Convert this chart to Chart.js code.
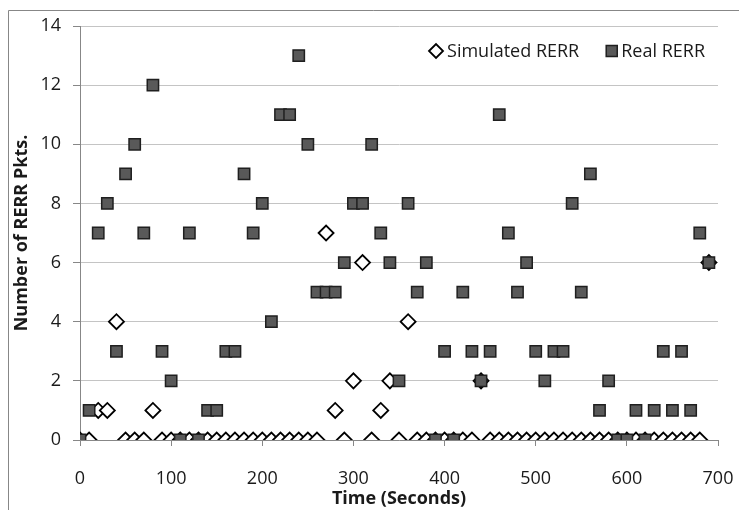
<!DOCTYPE html>
<html>
<head>
<meta charset="utf-8">
<script src="https://cdn.jsdelivr.net/npm/chart.js@4.4.1/dist/chart.umd.min.js"></script>
<style>
    html, body { margin: 0; padding: 0; background: #fff; overflow: hidden; }
</style>
</head>
<body>
<canvas id="rerrChart" width="739" height="510"></canvas>
<script>
// Thời gian (giây) - mỗi 10 s một điểm
var times = [
    0, 10, 20, 30, 40, 50, 60, 70, 80, 90,
    100, 110, 120, 130, 140, 150, 160, 170, 180, 190,
    200, 210, 220, 230, 240, 250, 260, 270, 280, 290,
    300, 310, 320, 330, 340, 350, 360, 370, 380, 390,
    400, 410, 420, 430, 440, 450, 460, 470, 480, 490,
    500, 510, 520, 530, 540, 550, 560, 570, 580, 590,
    600, 610, 620, 630, 640, 650, 660, 670, 680, 690
];

var simulatedRerr = [
    0, 0, 1, 1, 4, 0, 0, 0, 1, 0,
    0, 0, 0, 0, 0, 0, 0, 0, 0, 0,
    0, 0, 0, 0, 0, 0, 0, 7, 1, 0,
    2, 6, 0, 1, 2, 0, 4, 0, 0, 0,
    0, 0, 0, 0, 2, 0, 0, 0, 0, 0,
    0, 0, 0, 0, 0, 0, 0, 0, 0, 0,
    0, 0, 0, 0, 0, 0, 0, 0, 0, 6
];

var realRerr = [
    0, 1, 7, 8, 3, 9, 10, 7, 12, 3,
    2, 0, 7, 0, 1, 1, 3, 3, 9, 7,
    8, 4, 11, 11, 13, 10, 5, 5, 5, 6,
    8, 8, 10, 7, 6, 2, 8, 5, 6, 0,
    3, 0, 5, 3, 2, 3, 11, 7, 5, 6,
    3, 2, 3, 3, 8, 5, 9, 1, 2, 0,
    0, 1, 0, 1, 3, 1, 3, 1, 7, 6
];

var xTicks = [0, 100, 200, 300, 400, 500, 600, 700];
var yTicks = [0, 2, 4, 6, 8, 10, 12, 14];

var fontFamily = "'Open Sans', 'Liberation Sans', sans-serif";
var fontSize = 18;
var textColor = '#1a1a1a';
var axisColor = '#878787';

function toPoints(values) {
    return times.map(function (t, i) {
        return { x: t, y: values[i] };
    });
}

// khung ngoài của biểu đồ (chỉ thấy cạnh trái và cạnh trên)
var frameLines = {
    id: 'frameLines',
    beforeDraw: function (chart) {
        var ctx = chart.ctx;
        ctx.save();
        ctx.strokeStyle = axisColor;
        ctx.lineWidth = 1;
        ctx.beginPath();
        ctx.moveTo(8.5, 510);
        ctx.lineTo(8.5, 10.5);
        ctx.lineTo(739, 10.5);
        ctx.stroke();
        ctx.restore();
    }
};

// chú thích nằm trong vùng vẽ, góc trên bên phải, một hàng
var insideLegend = {
    id: 'insideLegend',
    afterDatasetsDraw: function (chart) {
        var ctx = chart.ctx;
        var area = chart.chartArea;
        var y = area.top + 25;
        var x = area.right - 13;
        var sets = chart.data.datasets;

        ctx.save();
        ctx.font = fontSize + 'px ' + fontFamily;
        ctx.textBaseline = 'middle';
        ctx.textAlign = 'left';

        for (var i = sets.length - 1; i >= 0; i--) {
            var ds = sets[i];
            var isRect = ds.pointStyle === 'rect';
            var half = isRect ? 5.5 : 7;
            x -= ctx.measureText(ds.label).width;
            ctx.fillStyle = textColor;
            ctx.fillText(ds.label, x, y + 1);
            var cx = x - 4 - half;
            ctx.fillStyle = ds.backgroundColor;
            ctx.strokeStyle = ds.borderColor;
            ctx.lineWidth = ds.borderWidth;
            Chart.helpers.drawPoint(ctx, { pointStyle: ds.pointStyle, radius: isRect ? 7.8 : 7, borderWidth: ds.borderWidth }, cx, y);
            x = cx - half - 27;
        }
        ctx.restore();
    }
};

Chart.defaults.font.family = fontFamily;
Chart.defaults.font.size = fontSize;
Chart.defaults.color = textColor;

var ctx = document.getElementById('rerrChart').getContext('2d');

var rerrChart = new Chart(ctx, {
    type: 'scatter',
    data: {
        datasets: [{
            label: 'Simulated RERR',
            data: toPoints(simulatedRerr),
            pointStyle: 'rectRot',
            pointRadius: 7.5,
            pointHoverRadius: 7.5,
            backgroundColor: '#ffffff',
            borderColor: '#000000',
            borderWidth: 1.8,
            order: 1
        }, {
            label: 'Real RERR',
            data: toPoints(realRerr),
            pointStyle: 'rect',
            pointRadius: 8,
            pointHoverRadius: 8,
            backgroundColor: '#595959',
            borderColor: '#1f1f1f',
            borderWidth: 1.5,
            order: 0
        }]
    },
    options: {
        responsive: false,
        animation: false,
        devicePixelRatio: 1,
        layout: {
            padding: { left: 9, top: 26, right: 21, bottom: 0 }
        },
        plugins: {
            legend: { display: false },
            tooltip: { enabled: false }
        },
        scales: {
            x: {
                type: 'linear',
                min: 0,
                max: 700,
                afterBuildTicks: function (scale) {
                    scale.ticks = xTicks.map(function (v) { return { value: v }; });
                },
                afterFit: function (scale) {
                    scale.height = 70;
                    scale.paddingLeft = 0;
                    scale.paddingRight = 0;
                },
                grid: { drawOnChartArea: false, color: axisColor, tickLength: 6 },
                border: { color: axisColor },
                ticks: { padding: 22, color: textColor, maxRotation: 0 },
                title: {
                    display: true,
                    text: 'Time (Seconds)',
                    color: textColor,
                    font: { size: fontSize, weight: 'bold' },
                    padding: { top: 0, bottom: 0 }
                }
            },
            y: {
                min: 0,
                max: 14,
                afterBuildTicks: function (scale) {
                    scale.ticks = yTicks.map(function (v) { return { value: v }; });
                },
                afterFit: function (scale) { scale.width = 71; },
                grid: { color: '#c4c4c4', tickColor: axisColor, tickLength: 7 },
                border: { color: axisColor },
                ticks: { padding: 12, color: textColor },
                title: {
                    display: true,
                    text: 'Number of RERR Pkts.',
                    color: textColor,
                    font: { size: fontSize, weight: 'bold' },
                    padding: { top: 2, bottom: 0 }
                }
            }
        }
    },
    plugins: [frameLines, insideLegend]
});
</script>
</body>
</html>
